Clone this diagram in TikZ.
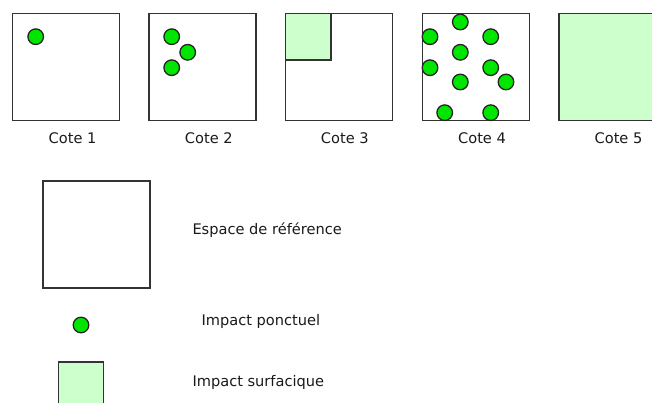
\documentclass[tikz,border=0pt]{standalone}
\usepackage{fontspec}
\setmainfont{DejaVu Sans}
\definecolor{edge}{HTML}{333333}
\definecolor{dot}{HTML}{00E600}
\definecolor{light}{HTML}{CCFFCC}
\definecolor{txt}{HTML}{1A1A1A}
\begin{document}
\begin{tikzpicture}[x=1pt,y=-1pt,
  refbox/.style={draw=edge,line width=1.6pt,fill=white,minimum size=107pt,inner sep=0pt},
  surf/.style={draw=edge,line width=1.6pt,fill=light,inner sep=0pt},
  impact/.style={circle,draw=edge!70!black,line width=1.3pt,fill=dot,minimum size=15.6pt,inner sep=0pt},
  lbl/.style={anchor=base,text=txt,inner sep=0pt,font=\fontsize{14.6}{17}\selectfont},
  lgd/.style={anchor=base west,text=txt,inner sep=0pt,font=\fontsize{14.6}{17}\selectfont}]
\clip (0,0) rectangle (652,403);
\fill[white] (0,0) rectangle (652,403);
% top row boxes
\node[refbox] (b1) at (66,67) {};
\node[refbox] (b2) at (202.5,67) {};
\node[refbox] (b3) at (339,67) {};
\node[refbox] (b4) at (476,67) {};
\node[surf,minimum size=107pt] (b5) at (612.5,67) {};
% cote 3 surface
\node[surf,minimum width=45.5pt,minimum height=46.5pt] (s3) at (308.25,36.75) {};
% cote 1
\node[impact] (p11) at (35.7,36.7) {};
% cote 2
\node[impact] (p21) at (171.7,36.7) {};
\node[impact] (p22) at (187.7,52.3) {};
\node[impact] (p23) at (171.7,67.7) {};
% cote 4
\node[impact] (p41) at (460.3,22) {};
\node[impact] (p42) at (430,36.7) {};
\node[impact] (p43) at (490.7,36.7) {};
\node[impact] (p44) at (460.3,52.3) {};
\node[impact] (p45) at (430,67.7) {};
\node[impact] (p46) at (490.7,67.7) {};
\node[impact] (p47) at (506,82) {};
\node[impact] (p48) at (460.3,82) {};
\node[impact] (p49) at (444.7,112.7) {};
\node[impact] (p410) at (490.7,112.7) {};
% labels
\node[lbl] (c1) at (72.6,143.2) {Cote 1};
\node[lbl] (c2) at (208.8,143.2) {Cote 2};
\node[lbl] (c3) at (344.8,143.2) {Cote 3};
\node[lbl] (c4) at (482,143.2) {Cote 4};
\node[lbl] (c5) at (618.5,143.2) {Cote 5};
% legend
\node[refbox] (lb) at (96.5,234.5) {};
\node[impact] (lp) at (81,325) {};
\node[surf,minimum width=45pt,minimum height=45pt] (ls) at (81,384.5) {};
\node[lgd] (t1) at (192.3,234) {Espace de référence};
\node[lgd] (t2) at (201.3,325.5) {Impact ponctuel};
\node[lgd] (t3) at (192.3,386) {Impact surfacique};
\end{tikzpicture}
\end{document}
